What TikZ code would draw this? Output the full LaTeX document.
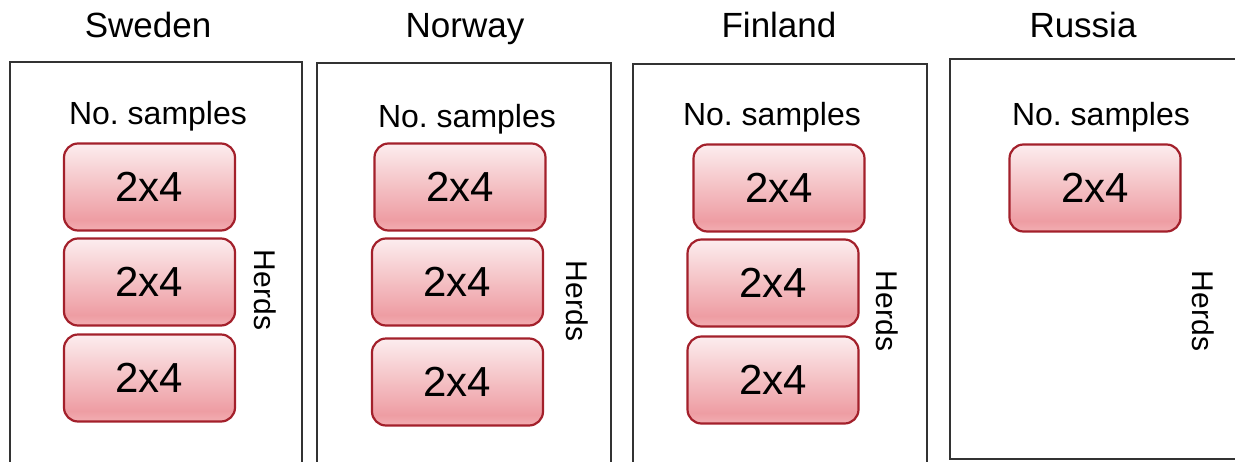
\documentclass[tikz,border=0pt]{standalone}
\usepackage{fontspec}
\setmainfont{Liberation Sans}
\definecolor{framegray}{HTML}{333333}
\definecolor{cellborder}{HTML}{A3202B}
\definecolor{celltop}{HTML}{FCEDEE}
\definecolor{cellmid}{HTML}{EE9DA3}
\definecolor{cellbot}{HTML}{F2AEB2}
% vertical fill of the sample cells: the cell spans 25bp (bottom) to 75bp (top)
\pgfdeclareverticalshading{cellfill}{100bp}{%
  color(0bp)=(cellbot); color(25bp)=(cellbot); color(31bp)=(cellmid);
  color(75bp)=(celltop); color(100bp)=(celltop)}
\tikzset{
  country/.style={draw=framegray, line width=2.3pt},
  title/.style={anchor=base, font=\fontsize{35}{40}\selectfont},
  subtitle/.style={anchor=base, font=\fontsize{32}{36}\selectfont},
  cell/.style={draw=cellborder, line width=2.2pt, rounded corners=14pt,
    shading=cellfill, minimum width=171pt, minimum height=87pt,
    inner sep=0pt, font=\fontsize{42}{48}\selectfont},
  herds/.style={rotate=-90, font=\fontsize{30}{34}\selectfont}
}
\begin{document}
\begin{tikzpicture}[x=1pt, y=-1pt]
  \useasboundingbox (0,0) rectangle (1235,461);

  % country frames
  \draw[country] (10,470) -- (10,62) -- (302,62) -- (302,470);
  \draw[country] (317,470) -- (317,63) -- (611,63) -- (611,470);
  \draw[country] (633,470) -- (633,64) -- (927,64) -- (927,470);
  \draw[country] (1245,59) -- (950,59) -- (950,459) -- (1245,459);

  % country names
  \node[title] (tse) at (148,37) {Sweden};
  \node[title] (tno) at (465,37) {Norway};
  \node[title] (tfi) at (779,37) {Finland};
  \node[title] (tru) at (1083,37) {Russia};

  % column headings
  \node[subtitle] (sse) at (158,124) {No.\ samples};
  \node[subtitle] (sno) at (467,127) {No.\ samples};
  \node[subtitle] (sfi) at (772,125) {No.\ samples};
  \node[subtitle] (sru) at (1101,125) {No.\ samples};

  % sample cells
  \node[cell] (se1) at (149.5,187) {2x4};
  \node[cell] (se2) at (149.5,282) {2x4};
  \node[cell] (se3) at (149.5,378) {2x4};

  \node[cell] (no1) at (460,187) {2x4};
  \node[cell] (no2) at (457.5,282) {2x4};
  \node[cell] (no3) at (457.5,382) {2x4};

  \node[cell] (fi1) at (779,188) {2x4};
  \node[cell] (fi2) at (773,283) {2x4};
  \node[cell] (fi3) at (773,380) {2x4};

  \node[cell] (ru1) at (1095,188) {2x4};

  % rotated herd labels
  \node[herds] (hse) at (265.5,290) {Herds};
  \node[herds] (hno) at (577,301) {Herds};
  \node[herds] (hfi) at (887,311) {Herds};
  \node[herds] (hru) at (1203,311) {Herds};
\end{tikzpicture}
\end{document}
